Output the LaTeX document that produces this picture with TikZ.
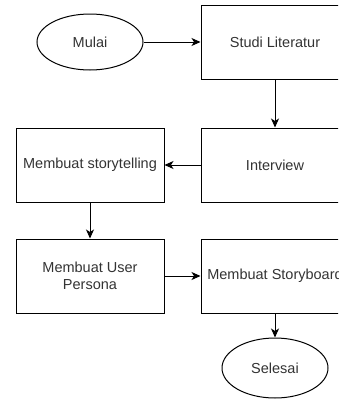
\documentclass[tikz,border=0pt]{standalone}
\usepackage{fontspec}
\setmainfont{Liberation Sans}
\usetikzlibrary{positioning,shapes.geometric,arrows.meta}

\begin{document}
\begin{tikzpicture}[node distance=185pt,on grid,line width=1pt,
		proc/.style={draw,rectangle,minimum width=148pt,minimum height=74pt,inner sep=0pt,align=center,text=black!80,font=\fontsize{14.5}{17.5}\selectfont},
		term/.style={draw,ellipse,minimum width=106pt,minimum height=56pt,inner sep=0pt,text=black!80,font=\fontsize{14.5}{17.5}\selectfont},
		flow/.style={-{Stealth[length=9pt,width=8pt,inset=2.5pt]}}]
				\clip (0,0) rectangle (338pt,-399pt);
				\node[term] (mulai) at (90pt,-42pt) {Mulai};
				\node[proc] (studi) [right=of mulai] {Studi Literatur};
				\node[proc] (interview) [below=123pt of studi] {Interview};
				\node[proc] (story) [left=of interview] {Membuat storytelling};
				\node[proc] (persona) [below=111pt of story] {Membuat User\\Persona};
				\node[proc] (board) [right=of persona] {Membuat Storyboard};
				\node[term,minimum height=60pt] (selesai) [below=92pt of board] {Selesai};
				\path[flow]
				(mulai) edge (studi)
				(studi) edge (interview)
				(interview) edge (story)
				(story) edge (persona)
				(persona) edge (board)
				(board) edge (selesai);
			\end{tikzpicture}
\end{document}
